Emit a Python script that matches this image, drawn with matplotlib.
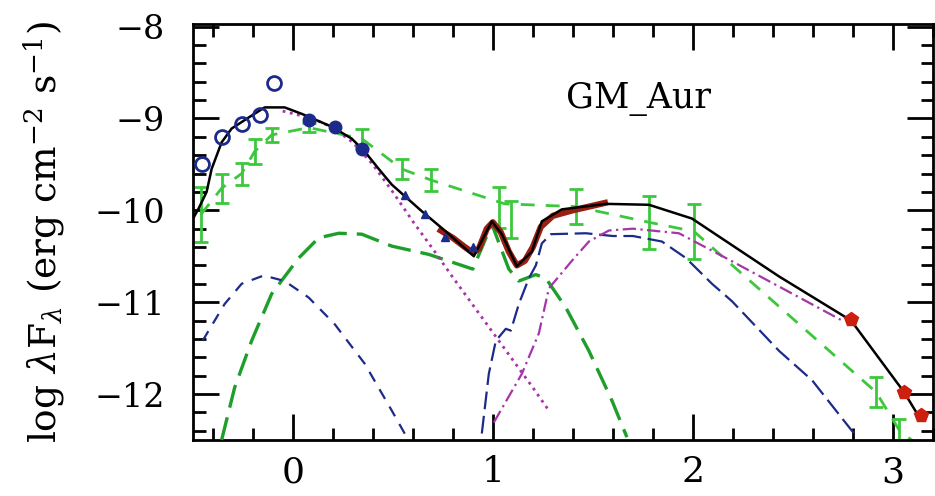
import numpy as np
import matplotlib
matplotlib.use("Agg")
import matplotlib.pyplot as plt
from matplotlib.ticker import MultipleLocator

plt.rcParams['font.family'] = ['DejaVu Serif']
plt.rcParams['mathtext.fontset'] = 'dejavuserif'

# total model (black)
model_x = [-0.5, -0.47, -0.43, -0.405, -0.355, -0.305, -0.22, -0.14, -0.04, 0.045, 0.195, 0.295,
           0.36, 0.43, 0.495, 0.645, 0.765, 0.905, 0.995, 1.045, 1.12, 1.195, 1.245, 1.345,
           1.565, 1.78, 1.995, 2.43, 2.79, 3.055, 3.13]
model_y = [-10.1, -9.98, -9.8, -9.55, -9.26, -9.11, -8.99, -8.88, -8.88, -8.95, -9.09, -9.22,
           -9.36, -9.55, -9.72, -10.01, -10.23, -10.5, -10.12, -10.26, -10.61, -10.45, -10.12, -9.99,
           -9.93, -9.94, -10.09, -10.72, -11.2, -11.98, -12.25]

# IRS spectrum (dark red)
irs_x = [0.74, 0.8, 0.86, 0.9, 0.93, 0.97, 1.0, 1.04, 1.08, 1.12, 1.16, 1.2, 1.24, 1.3, 1.4, 1.5, 1.56]
irs_y = [-10.22, -10.3, -10.4, -10.46, -10.42, -10.2, -10.13, -10.24, -10.45, -10.6, -10.55,
         -10.4, -10.18, -10.06, -10.0, -9.95, -9.92]

# photometry
open_x = [-0.455, -0.355, -0.255, -0.165, -0.095]
open_y = [-9.50, -9.20, -9.06, -8.96, -8.61]
fill_x = [0.08, 0.21, 0.345]
fill_y = [-9.02, -9.09, -9.33]
tri_x = [0.56, 0.66, 0.76, 0.9]
tri_y = [-9.83, -10.04, -10.29, -10.4]
red_x = [2.79, 3.055, 3.14]
red_y = [-11.18, -11.98, -12.23]

# median SED with errors (light green)
med_x = [-0.46, -0.355, -0.255, -0.19, -0.105, 0.08, 0.345, 0.545, 0.69, 1.03, 1.09,
         1.415, 1.78, 2.005, 2.915, 3.03]
med_y = [-10.05, -9.76, -9.6, -9.36, -9.18, -9.1, -9.22, -9.55, -9.67, -9.97, -10.1,
         -9.96, -10.13, -10.23, -11.98, -12.39]
med_err = [0.3, 0.16, 0.12, 0.14, 0.08, 0.05, 0.1, 0.11, 0.12, 0.22, 0.2,
           0.19, 0.29, 0.3, 0.16, 0.12]
medline_x = [-0.46, -0.355, -0.255, -0.19, -0.105, 0.08, 0.345, 0.545, 0.69, 1.06,
             1.415, 1.78, 2.005, 2.915, 3.03, 3.12]
medline_y = [-10.05, -9.76, -9.6, -9.36, -9.18, -9.1, -9.22, -9.55, -9.67, -9.93,
             -9.96, -10.13, -10.23, -11.98, -12.39, -12.55]

# components
phot_x = [-0.05, 0.1, 0.2, 0.3, 0.4, 0.5, 0.6, 0.7, 0.8, 0.9, 1.0, 1.1, 1.2, 1.28]
phot_y = [-8.92, -9.0, -9.1, -9.26, -9.5, -9.8, -10.12, -10.42, -10.73, -11.03, -11.33,
          -11.63, -11.93, -12.18]
shock_x = [-0.45, -0.34, -0.255, -0.145, -0.04, 0.08, 0.21, 0.36, 0.495, 0.57]
shock_y = [-11.42, -11.02, -10.80, -10.71, -10.77, -10.95, -11.24, -11.67, -12.18, -12.47]
inner_x = [-0.355, -0.29, -0.205, -0.105, 0.03, 0.13, 0.23, 0.345, 0.495, 0.68, 0.9, 0.995,
           1.08, 1.13, 1.215, 1.265, 1.365, 1.48, 1.595, 1.67]
inner_y = [-12.5, -11.93, -11.42, -10.91, -10.52, -10.30, -10.25, -10.26, -10.39, -10.48,
           -10.64, -10.15, -10.64, -10.77, -10.70, -10.74, -11.06, -11.53, -12.07, -12.47]
wall_x = [0.945, 0.98, 1.015, 1.065, 1.09, 1.13, 1.18, 1.215, 1.245, 1.29, 1.465, 1.6, 1.7,
          1.845, 1.965, 2.095, 2.195, 2.43, 2.595, 2.805]
wall_y = [-12.43, -11.78, -11.42, -11.29, -11.31, -11.02, -10.74, -10.6, -10.36, -10.26,
          -10.25, -10.28, -10.28, -10.34, -10.52, -10.8, -10.99, -11.53, -11.85, -12.43]
outer_x = [1.005, 1.145, 1.23, 1.28, 1.395, 1.48, 1.58, 1.7, 1.93, 2.165, 2.43, 2.745]
outer_y = [-12.31, -11.78, -11.34, -10.85, -10.55, -10.34, -10.22, -10.2, -10.25, -10.52,
           -10.83, -11.2]

navy = '#1c2a8a'
lgreen = '#3cc83c'
dgreen = '#1e9e2a'
magenta = '#a535a8'

fig = plt.figure(figsize=(9.35, 4.96), dpi=100)
ax = fig.add_axes([0.206, 0.113, 0.792, 0.839])

# median Taurus SED
ax.plot(medline_x, medline_y, color=lgreen, lw=2, ls=(0, (5, 4)), zorder=2)
ax.errorbar(med_x, med_y, yerr=med_err, fmt='none', ecolor=lgreen, elinewidth=2,
            capsize=5, capthick=2, zorder=2)

# model components
ax.plot(inner_x, inner_y, color=dgreen, lw=2.4, dashes=(7, 3), zorder=3)
ax.plot(shock_x, shock_y, color=navy, lw=1.6, dashes=(5, 4), zorder=3)
ax.plot(wall_x, wall_y, color=navy, lw=1.6, dashes=(8, 3), zorder=3)
ax.plot(outer_x, outer_y, color=magenta, lw=1.6, dashes=(6, 2, 1, 2), zorder=3)
ax.plot(phot_x, phot_y, color=magenta, lw=2, ls=':', zorder=3)

# observations
ax.plot(irs_x, irs_y, color='#9a1e14', lw=4.5, zorder=4)
ax.plot(model_x, model_y, color='black', lw=1.8, zorder=5)
ax.plot(open_x, open_y, 'o', mfc='none', mec=navy, mew=2, ms=10, zorder=6)
ax.plot(fill_x, fill_y, 'o', color=navy, ms=9, zorder=6)
ax.plot(tri_x, tri_y, '^', color=navy, ms=6, zorder=6)
ax.plot(red_x, red_y, 'p', color='#cc1f10', ms=10, zorder=6)

ax.text(1.365, -8.79, 'GM_Aur', fontsize=25, va='center', ha='left')

ax.set_xlim(-0.5, 3.2)
ax.set_ylim(-12.5, -7.97)
ax.xaxis.set_major_locator(MultipleLocator(1))
ax.xaxis.set_minor_locator(MultipleLocator(0.2))
ax.yaxis.set_major_locator(MultipleLocator(1))
ax.yaxis.set_minor_locator(MultipleLocator(0.2))
ax.tick_params(which='both', direction='in', top=True, right=True, width=2)
ax.tick_params(which='major', length=19)
ax.tick_params(which='minor', length=9)
ax.tick_params(axis='y', pad=20, labelsize=24)
ax.tick_params(axis='x', pad=11, labelsize=26)
for s in ax.spines.values():
    s.set_linewidth(2)

ax.set_ylabel(r'log $\lambda$F$_\lambda$ (erg cm$^{-2}$ s$^{-1}$)', fontsize=27)
ax.yaxis.set_label_coords(-0.17, 0.5)

fig.savefig('out.png', dpi=100)
